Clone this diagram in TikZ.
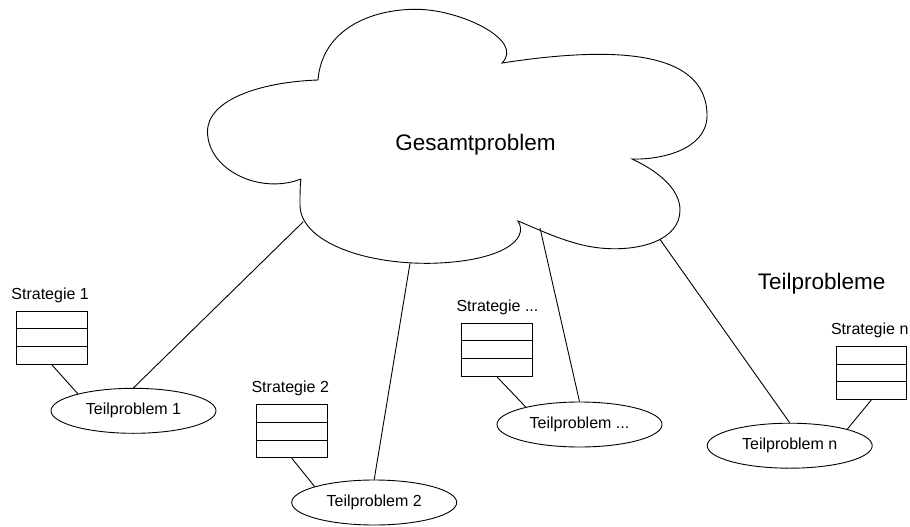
\documentclass[tikz,border=0pt]{standalone}
\usepackage{fontspec}
\setmainfont{Liberation Sans}
\usetikzlibrary{shapes.geometric,calc}

\tikzset{
  every picture/.style={x=1pt,y=-1pt,line width=0.9pt},
  teil/.style={draw,ellipse,minimum width=165pt,minimum height=45pt,inner sep=0pt,
    font=\fontsize{16}{19}\selectfont},
  stratbox/.style={draw,rectangle,minimum width=70.5pt,minimum height=53pt,inner sep=0pt,
    path picture={
      \draw ($(path picture bounding box.north west)!0.3333!(path picture bounding box.south west)$)
         -- ($(path picture bounding box.north east)!0.3333!(path picture bounding box.south east)$);
      \draw ($(path picture bounding box.north west)!0.6667!(path picture bounding box.south west)$)
         -- ($(path picture bounding box.north east)!0.6667!(path picture bounding box.south east)$);
    }},
  stratlabel/.style={anchor=base west,inner sep=0pt,font=\fontsize{16}{19}\selectfont},
  biglabel/.style={anchor=base,inner sep=0pt,font=\fontsize{22.5}{27}\selectfont},
  conn/.style={draw,line width=0.9pt}
}

\begin{document}
\begin{tikzpicture}
\useasboundingbox (0,0) rectangle (910,527);

% cloud for the overall problem
\draw (301,179)
  .. controls (260,195) and (208,170) .. (207.5,132)
  .. controls (207,100) and (260,82) .. (318,80)
  .. controls (322,30) and (370,9) .. (416.7,9.3)
  .. controls (460,9.5) and (525,40) .. (502,63)
  .. controls (600,48) and (708,45) .. (707,116.7)
  .. controls (706,150) and (660,160) .. (632,159)
  .. controls (660,172) and (680,190) .. (680,210)
  .. controls (680,240) and (640,252) .. (600,248)
  .. controls (570,245) and (540,230) .. (518,221)
  .. controls (530,240) and (500,262) .. (430,263.3)
  .. controls (360,264) and (300,240) .. (300,205)
  .. controls (300,195) and (300,185) .. (301,179);

\node[biglabel] (gesamt) at (475.5,150) {Gesamtproblem};
\node[biglabel] (teilp) at (821.7,289.3) {Teilprobleme};

% attachment points on the cloud border
\coordinate (c1) at (303.3,221.7);
\coordinate (c2) at (410,263.3);
\coordinate (c3) at (540,228);
\coordinate (c4) at (660,239.5);

% sub-problems
\node[teil] (t1) at (133.5,410.8) {Teilproblem 1};
\node[teil] (t2) at (374.2,502.5) {Teilproblem 2};
\node[teil] (t3) at (579.5,424.5) {Teilproblem ...};
\node[teil] (tn) at (789.7,445.7) {Teilproblem n};

% strategies
\node[stratbox] (s1) at (51.7,337.7) {};
\node[stratbox] (s2) at (291.8,431.3) {};
\node[stratbox] (s3) at (496.8,349.7) {};
\node[stratbox] (sn) at (871.3,373) {};

\node[stratlabel] (l1) at ([xshift=-5pt,yshift=11.7pt]s1.north west) {Strategie 1};
\node[stratlabel] (l2) at ([xshift=-5pt,yshift=11.7pt]s2.north west) {Strategie 2};
\node[stratlabel] (l3) at ([xshift=-5pt,yshift=11.7pt]s3.north west) {Strategie ...};
\node[stratlabel] (ln) at ([xshift=-5pt,yshift=11.7pt]sn.north west) {Strategie n};

% connectors cloud -> sub-problems
\draw[conn] (c1) -- (t1.north);
\draw[conn] (c2) -- (t2.north);
\draw[conn] (c3) -- (t3.north);
\draw[conn] (c4) -- (tn.north);

% connectors strategy -> sub-problem
\draw[conn] (s1.south) -- (t1.163);
\draw[conn] (s2.south) -- (t2.165);
\draw[conn] (s3.south) -- (t3.162);
\draw[conn] (sn.south) -- (tn.16);
\end{tikzpicture}
\end{document}
